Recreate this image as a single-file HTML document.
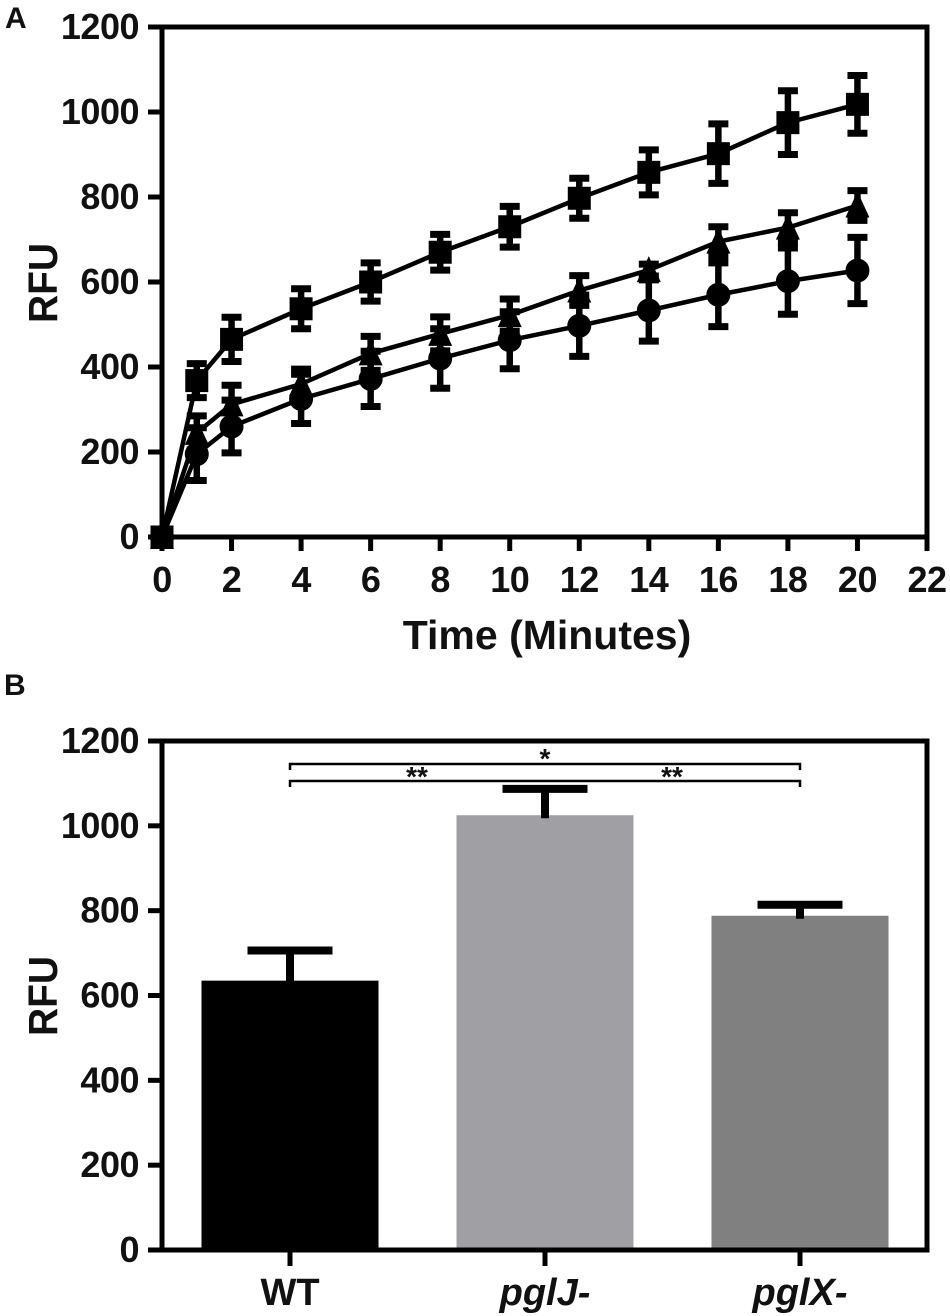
<!DOCTYPE html>
<html>
<head>
<meta charset="utf-8">
<title>RFU over time and endpoint comparison</title>
<style>
html,body{margin:0;padding:0;background:#fff;}
svg{display:block;}
text{font-family:"Liberation Sans",sans-serif;font-weight:bold;fill:#111;}
</style>
</head>
<body>
<svg id="fig" width="950" height="1316" viewBox="0 0 950 1316" xmlns="http://www.w3.org/2000/svg"></svg>
<script>
// Panel A data
const timePoints = [0, 1, 2, 4, 6, 8, 10, 12, 14, 16, 18, 20];
const squareValues = [0, 368, 465, 537, 600, 670, 730, 797, 858, 902, 975, 1018];
const squareErrors = [0, 40, 52, 47, 45, 42, 48, 47, 53, 70, 75, 68];
const triangleValues = [0, 245, 312, 360, 432, 478, 522, 580, 628, 695, 728, 780];
const triangleErrors = [0, 40, 45, 35, 40, 40, 38, 35, 14, 35, 35, 35];
const circleValues = [0, 195, 260, 325, 372, 420, 463, 497, 533, 570, 602, 627];
const circleErrors = [0, 62, 62, 58, 65, 70, 67, 72, 72, 75, 78, 78];
const xTicksA = [0, 2, 4, 6, 8, 10, 12, 14, 16, 18, 20, 22];
const yTicks = [0, 200, 400, 600, 800, 1000, 1200];

// Panel B data
const barCategories = ['WT', 'pglJ-', 'pglX-'];
const barValues = [635, 1025, 788];
const barErrors = [71, 62, 26];
const barColors = ['#000000', '#a0a0a4', '#808080'];

const NS = 'http://www.w3.org/2000/svg';
const svg = document.getElementById('fig');
function add(tag, attrs, parent, text) {
  const el = document.createElementNS(NS, tag);
  for (const k in attrs) el.setAttribute(k, attrs[k]);
  if (text !== undefined) el.textContent = text;
  (parent || svg).appendChild(el);
  return el;
}
const LEFT = 162, RIGHT = 927;
const xA = v => LEFT + (v / 22) * (RIGHT - LEFT);
const yA = v => 537 - (v / 1200) * 510;
const yB = v => 1250 - (v / 1200) * 509;
const xB = i => 290 + i * 255;
const BAR_W = 177;

function hLine(p, x1, x2, y, w) { return add('line', {x1: x1, x2: x2, y1: y, y2: y, stroke: '#000', 'stroke-width': w}, p); }
function vLine(p, x, y1, y2, w) { return add('line', {x1: x, x2: x, y1: y1, y2: y2, stroke: '#000', 'stroke-width': w}, p); }

function yAxis(y, prefix) {
  const g = add('g', {});
  
  
  yTicks.forEach(t => {
    hLine(g, 148, LEFT, y(t), 5);
    const label = add('text', {x: 139, y: y(t) + 12, 'font-size': 36, 'letter-spacing': -0.5, 'text-anchor': 'end'}, g, String(t));
    
    
  });
  return g;
}

function frame(top, bottom, prefix) {
  const g = add('g', {});
  
  
  add('rect', {x: LEFT, y: top, width: RIGHT - LEFT, height: bottom - top, fill: 'none', stroke: '#000', 'stroke-width': 5}, g);
}

/* ---------- Panel A ---------- */
const letterA = add('text', {x: 5, y: 28, 'font-size': 30}, svg, 'A');



frame(yA(1200), yA(0), 'panel-a');
yAxis(yA, 'panel-a');

const xAxisA = add('g', {});


xTicksA.forEach(t => {
  vLine(xAxisA, xA(t), 537, 551, 5);
  const label = add('text', {x: xA(t), y: 592, 'font-size': 36, 'letter-spacing': -0.5, 'text-anchor': 'middle'}, xAxisA, String(t));
  
  
});

const titleXA = add('text', {x: 547, y: 649, 'font-size': 41, 'text-anchor': 'middle'}, svg, 'Time (Minutes)');


const titleYA = add('text', {x: 0, y: 0, 'font-size': 41, 'text-anchor': 'middle', transform: 'translate(57,283) rotate(-90) scale(.95,1)'}, svg, 'RFU');



function drawMarker(g, shape, cx, cy) {
  if (shape === 'square') add('rect', {x: cx - 11.5, y: cy - 11.5, width: 23, height: 23, fill: '#000'}, g);
  if (shape === 'circle') add('circle', {cx: cx, cy: cy, r: 12, fill: '#000'}, g);
  if (shape === 'triangle') add('polygon', {points: (cx) + ',' + (cy - 14) + ' ' + (cx + 12) + ',' + (cy + 12) + ' ' + (cx - 12) + ',' + (cy + 12), fill: '#000'}, g);
}

function drawSeries(name, shape, values, errors) {
  const g = add('g', {});
  
  
  const pts = timePoints.map((t, i) => xA(t) + ',' + yA(values[i])).join(' ');
  add('polyline', {points: pts, fill: 'none', stroke: '#000', 'stroke-width': 4.5, 'stroke-linejoin': 'round'}, g);
  timePoints.forEach((t, i) => {
    const x = xA(t), hi = yA(values[i] + errors[i]), lo = yA(values[i] - errors[i]);
    if (errors[i] > 0) {
      vLine(g, x, hi, lo, 6.5);
      hLine(g, x - 10, x + 10, hi, 7);
      hLine(g, x - 10, x + 10, lo, 7);
    }
    drawMarker(g, shape, x, yA(values[i]));
  });
}
drawSeries('circle', 'circle', circleValues, circleErrors);
drawSeries('triangle', 'triangle', triangleValues, triangleErrors);
drawSeries('square', 'square', squareValues, squareErrors);

/* ---------- Panel B ---------- */
const letterB = add('text', {x: 4, y: 695, 'font-size': 30}, svg, 'B');



barCategories.forEach((c, i) => {
  const g = add('g', {});
  
  
  add('rect', {x: xB(i) - BAR_W / 2, y: yB(barValues[i]), width: BAR_W, height: yB(0) - yB(barValues[i]), fill: barColors[i]}, g);
  const top = yB(barValues[i] + barErrors[i]);
  vLine(g, xB(i), top, yB(barValues[i]) + 3, 8);
  hLine(g, xB(i) - 42.5, xB(i) + 42.5, top, 8);
});

frame(yB(1200), yB(0), 'panel-b');
yAxis(yB, 'panel-b');

const xAxisB = add('g', {});


barCategories.forEach((c, i) => {
  vLine(xAxisB, xB(i), 1250, 1266, 5);
  const attrs = {x: xB(i), y: 1305, 'font-size': 38, 'text-anchor': 'middle'};
  if (i > 0) attrs['font-style'] = 'italic';
  const label = add('text', attrs, xAxisB, c);
  
  
});

const titleYB = add('text', {x: 0, y: 0, 'font-size': 41, 'text-anchor': 'middle', transform: 'translate(57,996) rotate(-90) scale(.95,1)'}, svg, 'RFU');



function bracket(name, x1, x2, y) {
  const p = add('path', {d: 'M' + x1 + ' ' + (y + 6) + 'V' + y + 'H' + x2 + 'V' + (y + 6), fill: 'none', stroke: '#000', 'stroke-width': 2.5}, svg);
  
  
}
bracket('significance-bracket-wt-pglx', xB(0), xB(2), 764);
bracket('significance-bracket-pairs', xB(0), xB(2), 781);

function star(name, x, y, s) {
  const t = add('text', {x: x, y: y, 'font-size': 28, 'text-anchor': 'middle'}, svg, s);
  
  
}
star('significance-star-top', 545, 768, '*');
star('significance-stars-left', 417, 786, '**');
star('significance-stars-right', 672, 786, '**');
</script>
</body>
</html>
